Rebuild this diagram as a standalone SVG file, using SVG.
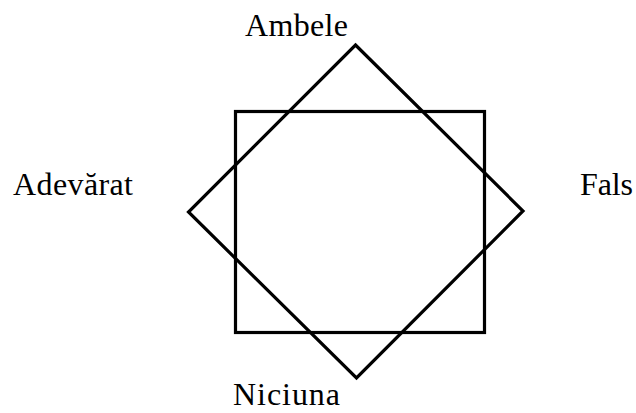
<svg xmlns="http://www.w3.org/2000/svg" width="636" height="413" viewBox="0 0 636 413">
<style>
.shape{fill:none;stroke:#000;stroke-width:3.2;stroke-linejoin:miter}
.lbl{font-family:"Liberation Serif","Times New Roman",serif;font-size:32px;fill:#000}
</style>
<rect width="636" height="413" fill="#fff"/>
<g id="connectors"></g>
<g id="square"><rect class="shape" x="235.5" y="111.5" width="249" height="221"/></g>
<g id="diamond"><polygon class="shape" points="355.5,45 523,211 356.5,378 188.5,212"/></g>
<g id="ambele"><text class="lbl" x="245" y="36" textLength="103">Ambele</text></g>
<g id="adevarat"><text class="lbl" x="13" y="195" textLength="120">Adevărat</text></g>
<g id="fals"><text class="lbl" x="580" y="195" textLength="53">Fals</text></g>
<g id="niciuna"><text class="lbl" x="233" y="405" font-size="31" textLength="107">Niciuna</text></g>
</svg>
